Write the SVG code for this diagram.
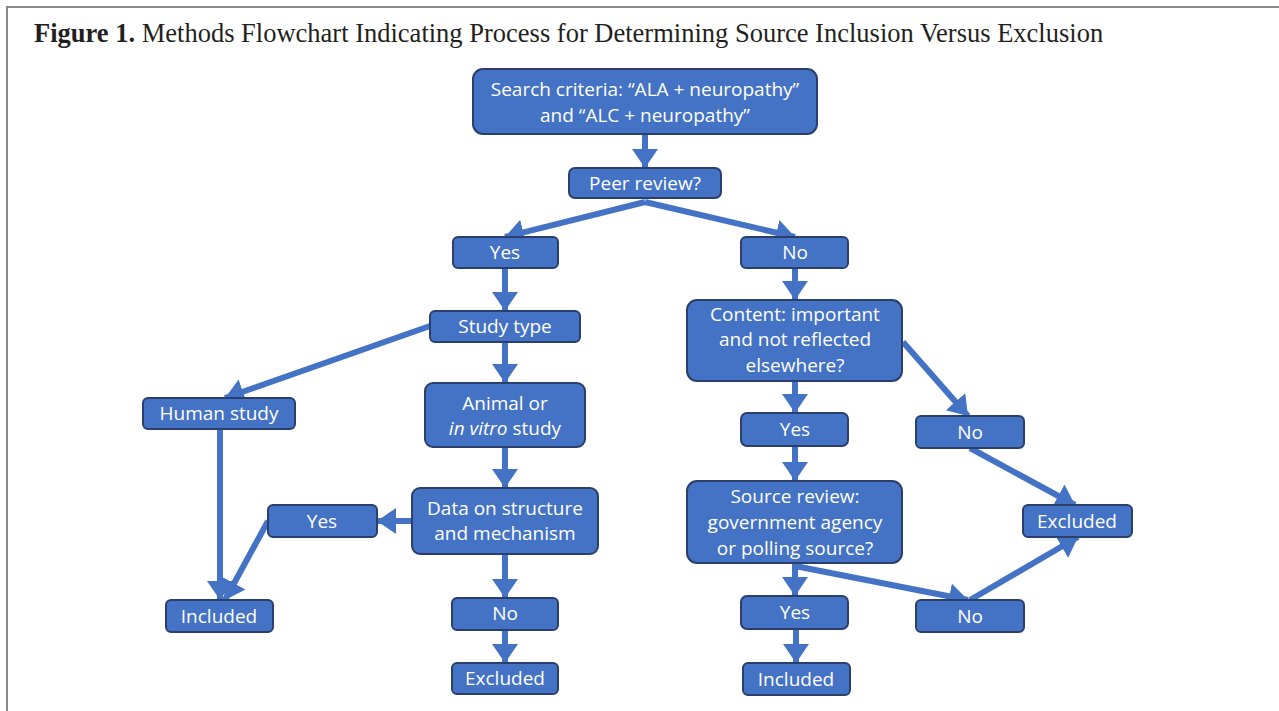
<svg xmlns="http://www.w3.org/2000/svg" width="1279" height="711" viewBox="0 0 1279 711">
<style>
.box{fill:#4472c4;stroke:#2a3f6b;stroke-width:2}
.t{font-family:"Open Sans","Noto Sans",sans-serif;font-size:19px;fill:#ffffff;text-anchor:middle}
.c{stroke:#4472c4;stroke-width:6;fill:none}
.title{font-family:"Liberation Serif",serif;font-size:26.5px;fill:#231f20}
</style>
<defs>
<marker id="ah" markerUnits="userSpaceOnUse" markerWidth="28" markerHeight="28" refX="19" refY="13" orient="auto">
<path d="M0,0 L19,13 L0,26 Z" fill="#4472c4"/>
</marker>
</defs>
<rect width="1279" height="711" fill="#ffffff"/>
<path d="M7,711 V7 H1279" fill="none" stroke="#8a8a8a" stroke-width="2"/>
<text class="title" x="34" y="42"><tspan font-weight="bold">Figure 1.</tspan> Methods Flowchart Indicating Process for Determining Source Inclusion Versus Exclusion</text>

<g id="connectors">
<line class="c" x1="645" y1="134" x2="645" y2="168" marker-end="url(#ah)"/>
<line class="c" x1="645" y1="202" x2="505" y2="237" marker-end="url(#ah)"/>
<line class="c" x1="645" y1="202" x2="795" y2="237" marker-end="url(#ah)"/>
<line class="c" x1="505" y1="268" x2="505" y2="311" marker-end="url(#ah)"/>
<line class="c" x1="430" y1="326" x2="225" y2="398" marker-end="url(#ah)"/>
<line class="c" x1="505" y1="342" x2="505" y2="383" marker-end="url(#ah)"/>
<line class="c" x1="505" y1="447" x2="505" y2="488" marker-end="url(#ah)"/>
<line class="c" x1="412" y1="521" x2="377" y2="521" marker-end="url(#ah)"/>
<line class="c" x1="505" y1="554" x2="505" y2="598" marker-end="url(#ah)"/>
<line class="c" x1="505" y1="630" x2="505" y2="663" marker-end="url(#ah)"/>
<line class="c" x1="220" y1="429" x2="220" y2="600" marker-end="url(#ah)"/>
<line class="c" x1="268" y1="521" x2="225" y2="600" marker-end="url(#ah)"/>
<line class="c" x1="795" y1="268" x2="795" y2="300" marker-end="url(#ah)"/>
<line class="c" x1="795" y1="381" x2="795" y2="413" marker-end="url(#ah)"/>
<line class="c" x1="903" y1="342" x2="968" y2="416" marker-end="url(#ah)"/>
<line class="c" x1="795" y1="446" x2="795" y2="481" marker-end="url(#ah)"/>
<line class="c" x1="970" y1="448" x2="1075" y2="505" marker-end="url(#ah)"/>
<line class="c" x1="795" y1="563" x2="795" y2="596" marker-end="url(#ah)"/>
<line class="c" x1="795" y1="566" x2="968" y2="600" marker-end="url(#ah)"/>
<line class="c" x1="970" y1="600" x2="1078" y2="537" marker-end="url(#ah)"/>
<line class="c" x1="796" y1="629" x2="796" y2="663" marker-end="url(#ah)"/>
</g>

<g id="search"><rect class="box" x="473" y="69" width="344" height="65" rx="10"/><text class="t" x="645" y="96">Search criteria: “ALA + neuropathy”</text><text class="t" x="645" y="122">and “ALC + neuropathy”</text></g>
<g id="peer"><rect class="box" x="569" y="168" width="152" height="30" rx="6"/><text class="t" x="645" y="190">Peer review?</text></g>
<g id="yes1"><rect class="box" x="453" y="237" width="105" height="31" rx="5"/><text class="t" x="505" y="259">Yes</text></g>
<g id="no1"><rect class="box" x="741" y="237" width="107" height="31" rx="5"/><text class="t" x="795" y="259">No</text></g>
<g id="studytype"><rect class="box" x="430" y="311" width="150" height="31" rx="5"/><text class="t" x="505" y="333">Study type</text></g>
<g id="human"><rect class="box" x="143" y="398" width="152" height="31" rx="5"/><text class="t" x="219" y="420">Human study</text></g>
<g id="animal"><rect class="box" x="425" y="383" width="160" height="64" rx="8"/><text class="t" x="505" y="410">Animal or</text><text class="t" x="505" y="435"><tspan font-style="italic">in vitro</tspan> study</text></g>
<g id="data"><rect class="box" x="412" y="488" width="186" height="66" rx="8"/><text class="t" x="505" y="515">Data on structure</text><text class="t" x="505" y="540">and mechanism</text></g>
<g id="yes2"><rect class="box" x="268" y="505" width="109" height="32" rx="5"/><text class="t" x="322" y="528">Yes</text></g>
<g id="included1"><rect class="box" x="166" y="600" width="107" height="32" rx="5"/><text class="t" x="219" y="623">Included</text></g>
<g id="no2"><rect class="box" x="452" y="598" width="106" height="32" rx="5"/><text class="t" x="505" y="620">No</text></g>
<g id="excluded1"><rect class="box" x="452" y="663" width="106" height="31" rx="5"/><text class="t" x="505" y="685">Excluded</text></g>
<g id="content"><rect class="box" x="687" y="300" width="215" height="81" rx="10"/><text class="t" x="795" y="321">Content: important</text><text class="t" x="795" y="346">and not reflected</text><text class="t" x="795" y="372">elsewhere?</text></g>
<g id="yes3"><rect class="box" x="741" y="413" width="107" height="33" rx="6"/><text class="t" x="795" y="436">Yes</text></g>
<g id="no3"><rect class="box" x="916" y="416" width="108" height="32" rx="5"/><text class="t" x="970" y="439">No</text></g>
<g id="source"><rect class="box" x="687" y="481" width="215" height="82" rx="10"/><text class="t" x="795" y="503">Source review:</text><text class="t" x="795" y="529">government agency</text><text class="t" x="795" y="555">or polling source?</text></g>
<g id="excluded2"><rect class="box" x="1023" y="505" width="109" height="32" rx="5"/><text class="t" x="1077" y="528">Excluded</text></g>
<g id="yes4"><rect class="box" x="741" y="596" width="107" height="33" rx="6"/><text class="t" x="795" y="619">Yes</text></g>
<g id="no4"><rect class="box" x="916" y="600" width="108" height="32" rx="5"/><text class="t" x="970" y="623">No</text></g>
<g id="included2"><rect class="box" x="743" y="663" width="107" height="32" rx="5"/><text class="t" x="796" y="686">Included</text></g>
</svg>
